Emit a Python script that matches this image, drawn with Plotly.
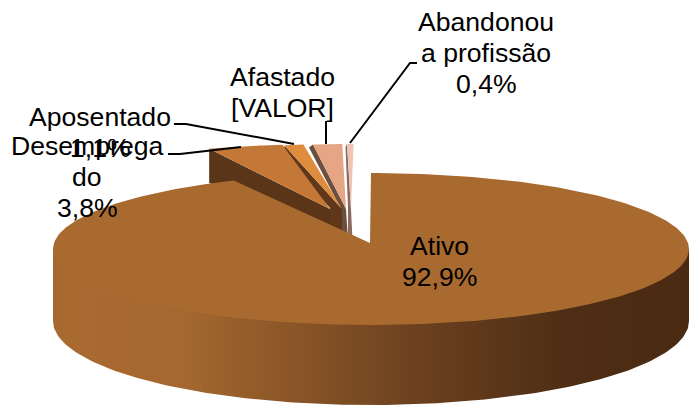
import numpy as np
import plotly.graph_objects as go

# ---- data ----
categories = ["Ativo", "Desempregado", "Aposentado", "Afastado", "Abandonou a profissão"]
values = [92.9, 3.8, 1.1, 1.8, 0.4]
label_lines = [["Ativo", "92,9%"], ["Desemprega", "do", "3,8%"], ["Aposentado", "1,1%"],
               ["Afastado", "[VALOR]"], ["Abandonou", "a profissão", "0,4%"]]

# ---- styling / projection of the 3D pie ----
W, H = 689, 407
CX, CY, RX, RY = 371, 249, 318, 76
DEPTH = 80
top_colors = ["#a96a30", "#c47837", "#e08c3e", "#e6a585", "#efc4b2"]
wall_colors = [None, "#5a3518", "#603819", "#6b4f3f", "#8a6a5e"]
# exploded slices: apex position, angle shift, radius, wall shape
apex = {1: (330, 209), 2: (342, 209), 3: (346, 209), 4: (351, 209)}
shift = {1: 3.3, 2: 0.0, 3: 0.62, 4: 0.56}
slice_rx = {1: 319, 2: 280, 3: 260, 4: 260}
small_ry = 65
wall_d = {1: 34, 2: 12, 3: 3, 4: 3}
wall_left = {1: 0, 2: 0, 3: 4, 4: 1.5}
wall_knee = {1: (330, 255), 2: (330, 208), 3: (340, 207), 4: (348, 207)}
wall_bottom = {1: 255, 2: 240, 3: 240, 4: 240}
wall_right = {1: 330, 2: 342, 3: 348, 4: 352.5}

shares = np.array(values) / sum(values) * 360
ends = np.cumsum(shares)
starts = ends - shares

fig = go.Figure()


def poly(xs, ys, color):
    fig.add_trace(go.Scatter(x=list(xs), y=list(ys), mode="lines", fill="toself",
                             fillcolor=color, line=dict(width=0, color=color),
                             hoverinfo="skip", showlegend=False))


# Ativo wall (front half of the rim) with its horizontal gradient
t = np.radians(np.linspace(90, 270, 160))
rx_pts = CX + RX * np.sin(t)
ry_pts = CY - RY * np.cos(t)
rim_depth = DEPTH * (0.9 + 0.1 * np.abs(np.cos(t)))
fig.add_trace(go.Scatter(
    x=np.r_[rx_pts, rx_pts[::-1]], y=np.r_[ry_pts - 3, (ry_pts + rim_depth)[::-1]],
    mode="lines", fill="toself", line=dict(width=0, color="rgba(0,0,0,0)"),
    fillgradient=dict(type="horizontal", colorscale=[
        [0, "#a5682e"], [0.02, "#a96a30"], [0.2, "#a56830"], [0.38, "#8a5527"],
        [0.55, "#6f4320"], [0.8, "#4f2e15"], [1, "#4a2a12"]]),
    hoverinfo="skip", showlegend=False))

# small exploded slices, back to front
for i in [4, 3, 2, 1]:
    th = np.radians(np.linspace(starts[i] + shift[i], ends[i] + shift[i], 24))
    ax, ay = apex[i]
    xo = ax + slice_rx[i] * np.sin(th)
    yo = ay - small_ry * np.cos(th)
    kx, ky = wall_knee[i]
    poly([xo[0], xo[0] - wall_left[i], kx, kx, wall_right[i], ax, xo[0]],
         [yo[0], yo[0] + wall_d[i], ky, wall_bottom[i], wall_bottom[i], ay, yo[0]],
         wall_colors[i])
    poly(np.r_[ax, xo, ax], np.r_[ay, yo, ay], top_colors[i])

# Ativo top face
th = np.radians(np.linspace(starts[0], ends[0], 300))
poly(np.r_[370, CX + RX * np.sin(th), 370], np.r_[243, CY - RY * np.cos(th), 243], top_colors[0])

# leader lines
leaders_x = [[417, 410, 350], [326, 326], [174, 186, 294], [168, 180, 241]]
leaders_y = [[63, 63, 143], [121, 144], [124, 124, 144], [154, 154, 147]]
for lx, ly in zip(leaders_x, leaders_y):
    fig.add_trace(go.Scatter(x=lx, y=ly, mode="lines", line=dict(color="black", width=2),
                             hoverinfo="skip", showlegend=False))

# labels, one annotation per line for the reference's tighter line pitch
label_x = [439, 87, 100, 282, 486]
label_top = [246, 146, 117, 77, 22]
LINE = 31
for lines, lx, ly in zip(label_lines, label_x, label_top):
    for k, txt in enumerate(lines):
        fig.add_annotation(x=lx, y=ly + k * LINE, text=txt, showarrow=False, xref="x", yref="y",
                           xanchor="center", yanchor="middle",
                           font=dict(family="Liberation Sans, Arial", size=26.6, color="#000000"))

fig.update_layout(
    width=W, height=H, margin=dict(l=0, r=0, t=0, b=0),
    paper_bgcolor="white", plot_bgcolor="white", showlegend=False,
    xaxis=dict(range=[0, W], visible=False, fixedrange=True),
    yaxis=dict(range=[H, 0], visible=False, fixedrange=True),
)
fig.write_html("out.html", config={"displayModeBar": False},
               post_script="document.body.style.margin='0';document.body.style.overflow='hidden';")
